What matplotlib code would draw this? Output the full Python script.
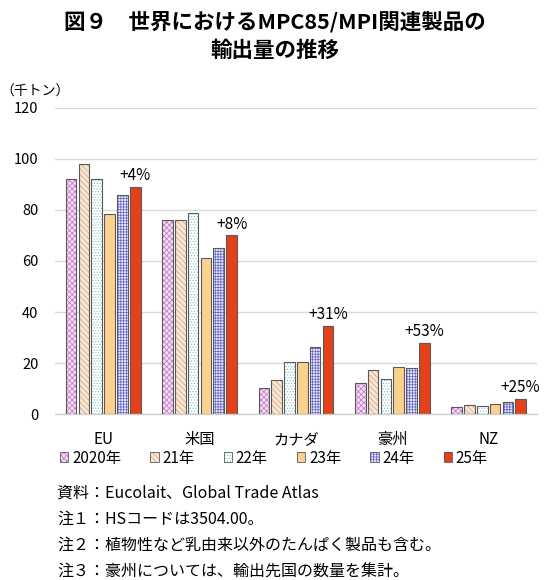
import matplotlib
matplotlib.use("Agg")
import matplotlib.pyplot as plt
from matplotlib.patches import Patch
import numpy as np

plt.rcParams['font.family'] = ['Noto Sans CJK JP', 'DejaVu Sans']
plt.rcParams['hatch.linewidth'] = 0.5

categories = ['EU', '米国', 'カナダ', '豪州', 'NZ']
series_labels = ['2020年', '21年', '22年', '23年', '24年', '25年']
values = {
    '2020年': [92, 76, 10.4, 12, 2.6],
    '21年': [98, 76, 13.4, 17.2, 3.4],
    '22年': [92, 79, 20.3, 13.7, 3.0],
    '23年': [78.6, 61, 20.3, 18.4, 3.9],
    '24年': [85.8, 65, 26.4, 18.1, 4.8],
    '25年': [89, 70, 34.6, 27.8, 6.0],
}
growth_labels = ['+4%', '+8%', '+31%', '+53%', '+25%']
yticks = [0, 20, 40, 60, 80, 100, 120]

faces = ['#F6DDF2', '#F7E6D2', '#FFFFFF', '#FCD18E', '#E6E6F7', '#E5401A']
hatch_cols = ['#C070C8', '#CFA37E', '#7CC4C4', '#FCD18E', '#6464C8', '#E5401A']
hatches = ['xxxxxx', '\\\\\\\\\\\\', '......', None, '++++++', None]
outline = '#5A5A5A'

fig = plt.figure(figsize=(5.5, 5.8), dpi=100)
ax = fig.add_axes([0.1, 0.286, 0.876, 0.528])

x = np.arange(len(categories))
pitch = 0.133
width = 0.11
handles = []
for j, s in enumerate(series_labels):
    pos = x + (j - 2.5) * pitch
    ax.bar(pos, values[s], width, color=faces[j], edgecolor=hatch_cols[j],
           hatch=hatches[j], linewidth=0, zorder=2)
    ax.bar(pos, values[s], width, fill=False, edgecolor=outline, linewidth=0.8, zorder=3)
    h1 = Patch(facecolor=faces[j], edgecolor=hatch_cols[j], hatch=hatches[j], linewidth=0)
    h2 = Patch(fill=False, edgecolor=outline, linewidth=0.6)
    handles.append((h1, h2))

last = values['25年']
for i, lab in enumerate(growth_labels):
    ax.annotate(lab, (x[i] + 2.5 * pitch, last[i]), xytext=(0, 2),
                textcoords='offset points', ha='center', va='bottom', fontsize=11)

ax.set_ylim(0, 120)
ax.set_xlim(-0.5, len(categories) - 0.5)
ax.set_yticks(yticks)
ax.set_yticklabels([str(t) for t in yticks], fontsize=10.5)
ax.set_xticks(x)
ax.set_xticklabels(categories, fontsize=11)
ax.tick_params(length=0, pad=12, axis='x')
ax.tick_params(length=0, pad=12, axis='y')
ax.yaxis.grid(True, color='#D9D9D9', linewidth=1, zorder=0)
ax.set_axisbelow(True)
for sp in ['top', 'right', 'left']:
    ax.spines[sp].set_visible(False)
ax.spines['bottom'].set_color('#D0D0D0')
ax.spines['bottom'].set_linewidth(1)

fig.text(0.0, 1 - 92 / 580, '（千トン）', fontsize=10, ha='left', va='center')

fig.legend(handles, series_labels, loc='center left', bbox_to_anchor=(60 / 550, 1 - 458 / 580),
           ncol=6, frameon=False, fontsize=11, handlelength=0.55, handleheight=0.55,
           handletextpad=0.25, columnspacing=1.9, borderaxespad=0, borderpad=0)

fig.text(0.5, 1 - 22 / 580, '図９　世界におけるMPC85/MPI関連製品の', fontsize=15.5,
         fontweight='bold', ha='center', va='center')
fig.text(0.5, 1 - 50 / 580, '輸出量の推移', fontsize=15.5, fontweight='bold',
         ha='center', va='center')

notes = ['資料：Eucolait、Global Trade Atlas',
         '注１：HSコードは3504.00。',
         '注２：植物性など乳由来以外のたんぱく製品も含む。',
         '注３：豪州については、輸出先国の数量を集計。']
for k, n in enumerate(notes):
    fig.text(57 / 550, 1 - (493 + 26.3 * k) / 580, n, fontsize=11.5, ha='left', va='center')

fig.savefig('out.png', dpi=100)
